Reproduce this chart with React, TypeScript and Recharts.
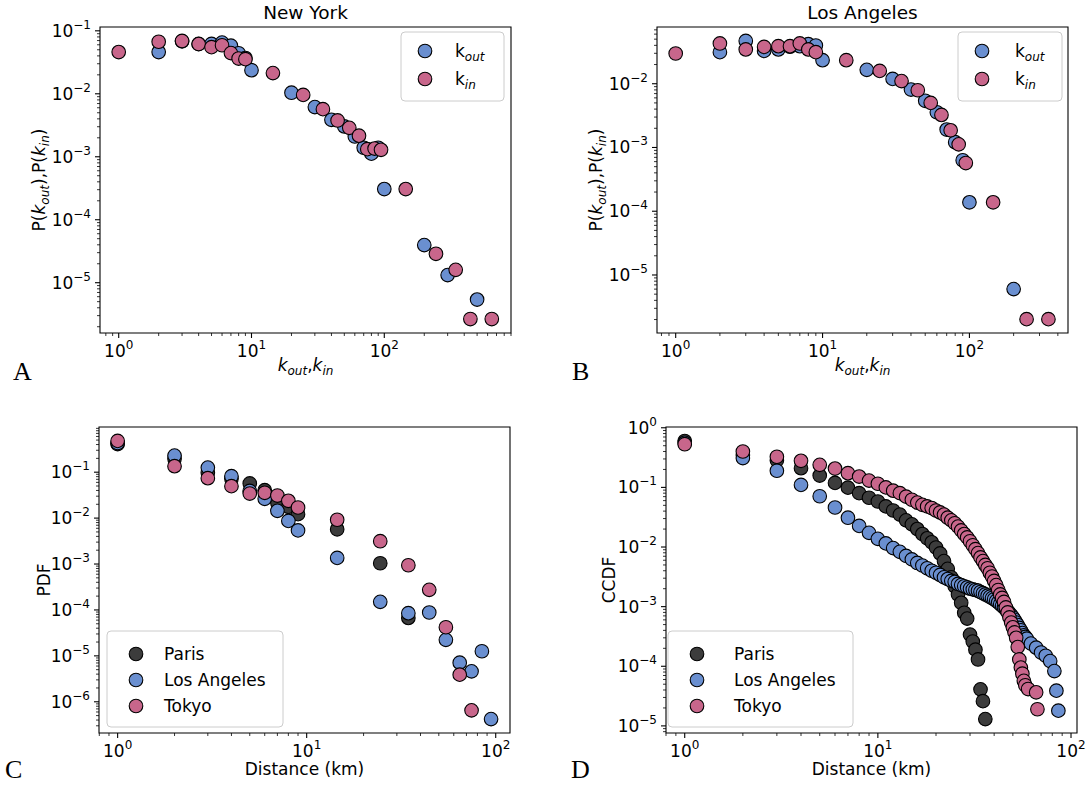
import React from 'react';
import { ScatterChart, Scatter, XAxis, YAxis, ReferenceArea } from 'recharts';

const FONT = "'DejaVu Sans', sans-serif";
const SERIF = "'Liberation Serif', 'DejaVu Serif', serif";
const BLUE = '#6a8fd0';
const PINK = '#c8668b';
const DARK = '#3c3c3c';
const MARKER_R = 6.8;

// ---------- Panel A: New York, degree distributions ----------
const nyOutK = [2, 3, 4, 5, 6, 7, 8, 9, 10, 20, 30, 40, 50, 60, 70, 80, 90, 100, 200, 300, 500];
const nyOutP = [0.046, 0.068, 0.062, 0.062, 0.065, 0.058, 0.044, 0.037, 0.0237, 0.0104, 0.00615, 0.00386, 0.00303, 0.0021, 0.00139, 0.00112, 0.00139, 0.000307, 3.96e-5, 1.32e-5, 5.4e-6];
const nyInK = [1, 2, 3, 4, 5, 6, 7, 8, 9, 14.5, 24.5, 34.5, 44.5, 54.5, 64.5, 74.5, 84.5, 94.5, 145, 245, 345, 445, 645];
const nyInP = [0.046, 0.067, 0.069, 0.0615, 0.055, 0.059, 0.0443, 0.0363, 0.0355, 0.0213, 0.0096, 0.0057, 0.00377, 0.00288, 0.00216, 0.00132, 0.00135, 0.00129, 0.000307, 2.88e-5, 1.6e-5, 2.65e-6, 2.65e-6];

// ---------- Panel B: Los Angeles, degree distributions ----------
const laOutK = [2, 3, 4, 5, 6, 7, 8, 9, 10, 20, 30, 40, 50, 60, 70, 80, 90, 100, 200];
const laOutP = [0.0313, 0.047, 0.0327, 0.0345, 0.038, 0.0388, 0.0417, 0.0398, 0.0234, 0.0165, 0.0119, 0.0081, 0.0054, 0.00357, 0.00191, 0.00121, 0.00063, 0.000138, 6.0e-6];
const laInK = [1, 2, 3, 4, 5, 6, 7, 8, 9, 14.5, 24.5, 34.5, 44.5, 54.5, 64.5, 74.5, 84.5, 94.5, 145, 245, 345];
const laInP = [0.0298, 0.0428, 0.0345, 0.0378, 0.0388, 0.0388, 0.0428, 0.0345, 0.0313, 0.0234, 0.0159, 0.011, 0.0079, 0.005, 0.00324, 0.00186, 0.00112, 0.00057, 0.000138, 2.03e-6, 2.03e-6];

// ---------- Panel C: PDF of distance ----------
const pdfParisD = [1, 2, 3, 4, 5, 6, 7, 8, 9, 14.5, 24.5, 34.5];
const pdfParis = [0.41, 0.196, 0.097, 0.072, 0.0568, 0.0406, 0.0216, 0.0176, 0.0122, 0.0057, 0.00104, 6.7e-5];
const pdfLAD = [1, 2, 3, 4, 5, 6, 7, 8, 9, 14.5, 24.5, 34.5, 44.5, 54.5, 64.5, 74.5, 84.5, 94.5];
const pdfLA = [0.43, 0.23, 0.126, 0.082, 0.039, 0.0263, 0.0144, 0.0087, 0.0054, 0.00136, 0.00015, 8.5e-5, 8.8e-5, 2.23e-5, 7.1e-6, 4.6e-6, 1.26e-5, 4.2e-7];
const pdfTokyoD = [1, 2, 3, 4, 5, 6, 7, 8, 9, 14.5, 24.5, 34.5, 44.5, 54.5, 64.5, 74.5];
const pdfTokyo = [0.48, 0.135, 0.074, 0.0496, 0.0343, 0.0356, 0.031, 0.0238, 0.017, 0.0092, 0.00314, 0.00094, 0.000274, 4.2e-5, 3.9e-6, 6.5e-7];

// ---------- Panel D: CCDF of distance ----------
const ccdfParisD = [1, 2, 3, 4, 5, 6, 7, 8, 9, 10, 11, 12, 13, 14, 15, 16, 17, 18, 19, 20, 21, 22, 23, 24, 25, 26, 27, 28, 29, 30, 31, 32, 33, 34, 35, 36];
const ccdfParis = [0.6, 0.35, 0.285, 0.21, 0.158, 0.119, 0.099, 0.08, 0.067, 0.058, 0.048, 0.041, 0.035, 0.028, 0.024, 0.02, 0.0165, 0.014, 0.012, 0.0098, 0.0078, 0.0058, 0.0043, 0.0031, 0.0022, 0.0016, 0.00116, 0.00079, 0.00063, 0.00034, 0.00026, 0.00019, 0.00013, 4.1e-5, 2.6e-5, 1.3e-5];
const ccdfLAD = [1, 2, 3, 4, 5, 6, 7, 8, 9, 10, 11, 12, 13, 14, 15, 16, 17, 18, 19, 20, 21, 22, 23, 24, 25, 26, 27, 28, 29, 30, 31, 32, 33, 34, 35, 36, 37, 38, 39, 40, 41, 42, 43, 44, 45, 46, 47, 48, 49, 50, 51, 52, 53, 54, 55, 56, 57, 58, 59, 62, 66, 70, 74, 78, 82, 84, 86];
const ccdfLA = [0.56, 0.31, 0.19, 0.11, 0.071, 0.046, 0.031, 0.0226, 0.0173, 0.0137, 0.0115, 0.0096, 0.0083, 0.0071, 0.0062, 0.0054, 0.0049, 0.0044, 0.004, 0.0037, 0.0034, 0.0031, 0.0029, 0.0027, 0.0026, 0.0024, 0.0023, 0.0022, 0.0021, 0.002, 0.00195, 0.0019, 0.00185, 0.00176, 0.00168, 0.0016, 0.00153, 0.00146, 0.00139, 0.00133, 0.00125, 0.00118, 0.0011, 0.00103, 0.00097, 0.0009, 0.00085, 0.00078, 0.00072, 0.00066, 0.0006, 0.00054, 0.00049, 0.00044, 0.0004, 0.00036, 0.00033, 0.00031, 0.00029, 0.00024, 0.000205, 0.00017, 0.00015, 0.000122, 8.3e-5, 3.9e-5, 1.8e-5];
const ccdfTokyoD = [1, 2, 3, 4, 5, 6, 7, 8, 9, 10, 11, 12, 13, 14, 15, 16, 17, 18, 19, 20, 21, 22, 23, 24, 25, 26, 27, 28, 29, 30, 31, 32, 33, 34, 35, 36, 37, 38, 39, 40, 41, 42, 43, 44, 45, 46, 47, 48, 49, 50, 51, 52, 53, 54, 55, 56, 57, 58, 60, 66, 67];
const ccdfTokyo = [0.53, 0.4, 0.326, 0.279, 0.239, 0.207, 0.173, 0.152, 0.13, 0.115, 0.1, 0.088, 0.08, 0.07, 0.062, 0.0556, 0.051, 0.048, 0.045, 0.041, 0.038, 0.035, 0.031, 0.028, 0.025, 0.022, 0.019, 0.0165, 0.0145, 0.0125, 0.0107, 0.0092, 0.0079, 0.0067, 0.0058, 0.005, 0.0044, 0.0037, 0.0032, 0.0027, 0.0023, 0.0019, 0.0016, 0.0014, 0.0012, 0.00097, 0.0008, 0.00066, 0.00054, 0.00045, 0.00037, 0.0003, 0.00021, 0.00013, 9.5e-5, 7.5e-5, 5.7e-5, 4.8e-5, 4.15e-5, 3.66e-5, 1.9e-5];

type Pt = { x: number; y: number };
const zip = (xs: number[], ys: number[]): Pt[] => xs.map((x, i) => ({ x, y: ys[i] }));

function logTicks(min: number, max: number): number[] {
  const out: number[] = [];
  const n0 = Math.floor(Math.log10(min));
  const n1 = Math.ceil(Math.log10(max));
  for (let n = n0; n <= n1; n++) {
    for (let k = 1; k <= 9; k++) {
      const v = parseFloat((k * Math.pow(10, n)).toPrecision(6));
      if (v >= min && v <= max) out.push(v);
    }
  }
  return out;
}
function isMajor(v: number) {
  const n = Math.round(Math.log10(v));
  return Math.abs(v / Math.pow(10, n) - 1) < 1e-6;
}
function expLabel(v: number) {
  const n = Math.round(Math.log10(v));
  return n < 0 ? '\u2212' + -n : String(n);
}

const makeXTick = (plotBottom: number) => (props: any) => {
  const { x, payload } = props;
  const v = payload.value;
  const major = isMajor(v);
  return (
    <g>
      <line x1={x} x2={x} y1={plotBottom} y2={plotBottom + (major ? 5 : 3)} stroke="#000" strokeWidth={major ? 1.1 : 0.8} />
      {major ? (
        <text x={x} y={plotBottom + 24} textAnchor="middle" fontFamily={FONT} fontSize={17} fill="#000">
          <tspan>10</tspan>
          <tspan dy={-8} fontSize={12}>{expLabel(v)}</tspan>
        </text>
      ) : null}
    </g>
  );
};

const makeYTick = (plotLeft: number) => (props: any) => {
  const { y, payload } = props;
  const v = payload.value;
  const major = isMajor(v);
  return (
    <g>
      <line x1={plotLeft - (major ? 5 : 3)} x2={plotLeft} y1={y} y2={y} stroke="#000" strokeWidth={major ? 1.1 : 0.8} />
      {major ? (
        <text x={plotLeft - 9} y={y + 6} textAnchor="end" fontFamily={FONT} fontSize={17} fill="#000">
          <tspan>10</tspan>
          <tspan dy={-8} fontSize={12}>{expLabel(v)}</tspan>
        </text>
      ) : null}
    </g>
  );
};

type Series = { data: Pt[]; color: string; name: string };
type PanelCfg = {
  cl: number; ct: number; cw: number; ch: number;
  px0: number; px1: number; py0: number; py1: number;
  xDomain: [number, number]; yDomain: [number, number];
  series: Series[];
};

function Panel({ cfg }: { cfg: PanelCfg }) {
  const { cl, ct, cw, ch, px0, px1, py0, py1, xDomain, yDomain, series } = cfg;
  const plotLeft = px0 - cl;
  const plotBottom = py1 - ct;
  const xTicks = logTicks(xDomain[0], xDomain[1]);
  const yTicks = logTicks(yDomain[0], yDomain[1]);
  return (
    <div style={{ position: 'absolute', left: cl, top: ct, width: cw, height: ch }}>
      <ScatterChart width={cw} height={ch} margin={{ top: py0 - ct, right: cl + cw - px1, bottom: 0, left: 0 }}>
        <XAxis type="number" dataKey="x" scale="log" domain={xDomain} allowDataOverflow ticks={xTicks} interval={0}
          tickLine={false} axisLine={false} height={ct + ch - py1} tick={makeXTick(plotBottom)} />
        <YAxis type="number" dataKey="y" scale="log" domain={yDomain} allowDataOverflow ticks={yTicks} interval={0}
          tickLine={false} axisLine={false} width={px0 - cl} tick={makeYTick(plotLeft)} />
        <ReferenceArea x1={xDomain[0]} x2={xDomain[1]} y1={yDomain[0]} y2={yDomain[1]} fill="none" fillOpacity={0} stroke="#000" strokeWidth={1.1} />
        {series.map((s) => (
          <Scatter key={s.name} name={s.name} data={s.data} fill={s.color} isAnimationActive={false}
            shape={(p: any) => <circle cx={p.cx} cy={p.cy} r={MARKER_R} fill={s.color} stroke="#000" strokeWidth={1.1} />} />
        ))}
      </ScatterChart>
    </div>
  );
}

const panelA: PanelCfg = {
  cl: 0, ct: 0, cw: 543, ch: 392, px0: 100, px1: 511, py0: 27, py1: 333,
  xDomain: [0.723, 900], yDomain: [1.59e-6, 0.115],
  series: [
    { name: 'kout', color: BLUE, data: zip(nyOutK, nyOutP) },
    { name: 'kin', color: PINK, data: zip(nyInK, nyInP) },
  ],
};
const panelB: PanelCfg = {
  cl: 543, ct: 0, cw: 543, ch: 392, px0: 657, px1: 1068, py0: 27, py1: 333,
  xDomain: [0.746, 469], yDomain: [1.23e-6, 0.0776],
  series: [
    { name: 'kout', color: BLUE, data: zip(laOutK, laOutP) },
    { name: 'kin', color: PINK, data: zip(laInK, laInP) },
  ],
};
const panelC: PanelCfg = {
  cl: 0, ct: 392, cw: 543, ch: 393, px0: 99, px1: 510, py0: 427, py1: 733,
  xDomain: [0.797, 119], yDomain: [2.09e-7, 0.964],
  series: [
    { name: 'Paris', color: DARK, data: zip(pdfParisD, pdfParis) },
    { name: 'Los Angeles', color: BLUE, data: zip(pdfLAD, pdfLA) },
    { name: 'Tokyo', color: PINK, data: zip(pdfTokyoD, pdfTokyo) },
  ],
};
const panelD: PanelCfg = {
  cl: 543, ct: 392, cw: 543, ch: 393, px0: 666, px1: 1077, py0: 427, py1: 733,
  xDomain: [0.8, 107.4], yDomain: [7.6e-6, 1.03],
  series: [
    { name: 'Paris', color: DARK, data: zip(ccdfParisD, ccdfParis) },
    { name: 'Los Angeles', color: BLUE, data: zip(ccdfLAD, ccdfLA) },
    { name: 'Tokyo', color: PINK, data: zip(ccdfTokyoD, ccdfTokyo) },
  ],
};

function KLabel({ sub }: { sub: string }) {
  return (
    <>
      <tspan>k</tspan>
      <tspan fontStyle="italic" fontSize={12} dy={4}>{sub}</tspan>
    </>
  );
}

function DegreeLegend({ x, y, w, mx, tx }: { x: number; y: number; w: number; mx: number; tx: number }) {
  return (
    <g>
      <rect x={x} y={y} width={w} height={69} rx={4} fill="#fff" fillOpacity={0.8} stroke="#cccccc" strokeWidth={1} />
      <circle cx={mx} cy={y + 19} r={MARKER_R} fill={BLUE} stroke="#000" strokeWidth={1.1} />
      <circle cx={mx} cy={y + 47} r={MARKER_R} fill={PINK} stroke="#000" strokeWidth={1.1} />
      <text x={tx} y={y + 25} fontFamily={FONT} fontSize={17} fill="#000"><KLabel sub="out" /></text>
      <text x={tx} y={y + 53} fontFamily={FONT} fontSize={17} fill="#000"><KLabel sub="in" /></text>
    </g>
  );
}

function CityLegend({ x, y, w, mx, tx }: { x: number; y: number; w: number; mx: number; tx: number }) {
  const rows = [
    { c: DARK, t: 'Paris' },
    { c: BLUE, t: 'Los Angeles' },
    { c: PINK, t: 'Tokyo' },
  ];
  return (
    <g>
      <rect x={x} y={y} width={w} height={96} rx={4} fill="#fff" fillOpacity={0.8} stroke="#cccccc" strokeWidth={1} />
      {rows.map((r, i) => (
        <g key={r.t}>
          <circle cx={mx} cy={y + 23 + i * 26} r={MARKER_R} fill={r.c} stroke="#000" strokeWidth={1.1} />
          <text x={tx} y={y + 29 + i * 26} fontFamily={FONT} fontSize={17} fill="#000">{r.t}</text>
        </g>
      ))}
    </g>
  );
}

function MathK({ sub }: { sub: string }) {
  return (
    <>
      <tspan fontStyle="italic">k</tspan>
      <tspan fontStyle="italic" fontSize={12} dy={4}>{sub}</tspan>
    </>
  );
}

export default function App() {
  return (
    <div style={{ position: 'absolute', left: 0, top: 0, width: 1086, height: 785, background: '#fff' }}>
      <Panel cfg={panelA} />
      <Panel cfg={panelB} />
      <Panel cfg={panelC} />
      <Panel cfg={panelD} />
      <svg width={1086} height={785} style={{ position: 'absolute', left: 0, top: 0, pointerEvents: 'none' }}>
        {/* titles */}
        <text x={305.5} y={19} textAnchor="middle" fontFamily={FONT} fontSize={18.5} fill="#000">New York</text>
        <text x={862.5} y={19} textAnchor="middle" fontFamily={FONT} fontSize={18.5} fill="#000">Los Angeles</text>
        {/* x labels */}
        <text x={305.5} y={371} textAnchor="middle" fontFamily={FONT} fontSize={17} fill="#000">
          <MathK sub="out" /><tspan dy={-4}>,</tspan><MathK sub="in" />
        </text>
        <text x={862.5} y={371} textAnchor="middle" fontFamily={FONT} fontSize={17} fill="#000">
          <MathK sub="out" /><tspan dy={-4}>,</tspan><MathK sub="in" />
        </text>
        <text x={304.5} y={775} textAnchor="middle" fontFamily={FONT} fontSize={17} fill="#000">Distance (km)</text>
        <text x={871.5} y={775} textAnchor="middle" fontFamily={FONT} fontSize={17} fill="#000">Distance (km)</text>
        {/* y labels */}
        <text x={45} y={180} transform="rotate(-90 45 180)" textAnchor="middle" fontFamily={FONT} fontSize={17} fill="#000">
          <tspan>P(</tspan><MathK sub="out" /><tspan dy={-4}>),P(</tspan><MathK sub="in" /><tspan dy={-4}>)</tspan>
        </text>
        <text x={602} y={180} transform="rotate(-90 602 180)" textAnchor="middle" fontFamily={FONT} fontSize={17} fill="#000">
          <tspan>P(</tspan><MathK sub="out" /><tspan dy={-4}>),P(</tspan><MathK sub="in" /><tspan dy={-4}>)</tspan>
        </text>
        <text x={50} y={580} transform="rotate(-90 50 580)" textAnchor="middle" fontFamily={FONT} fontSize={17} fill="#000">PDF</text>
        <text x={615} y={580} transform="rotate(-90 615 580)" textAnchor="middle" fontFamily={FONT} fontSize={17} fill="#000">CCDF</text>
        {/* panel letters */}
        <text x={13} y={380} fontFamily={SERIF} fontSize={26} fill="#000">A</text>
        <text x={572} y={380} fontFamily={SERIF} fontSize={26} fill="#000">B</text>
        <text x={5} y={778} fontFamily={SERIF} fontSize={26} fill="#000">C</text>
        <text x={571} y={778} fontFamily={SERIF} fontSize={26} fill="#000">D</text>
        {/* legends */}
        <DegreeLegend x={401} y={32} w={103} mx={425} tx={455} />
        <DegreeLegend x={958} y={32} w={104} mx={982} tx={1015} />
        <CityLegend x={107} y={631} w={176} mx={136} tx={164} />
        <CityLegend x={668} y={631} w={185} mx={697} tx={734} />
      </svg>
    </div>
  );
}
